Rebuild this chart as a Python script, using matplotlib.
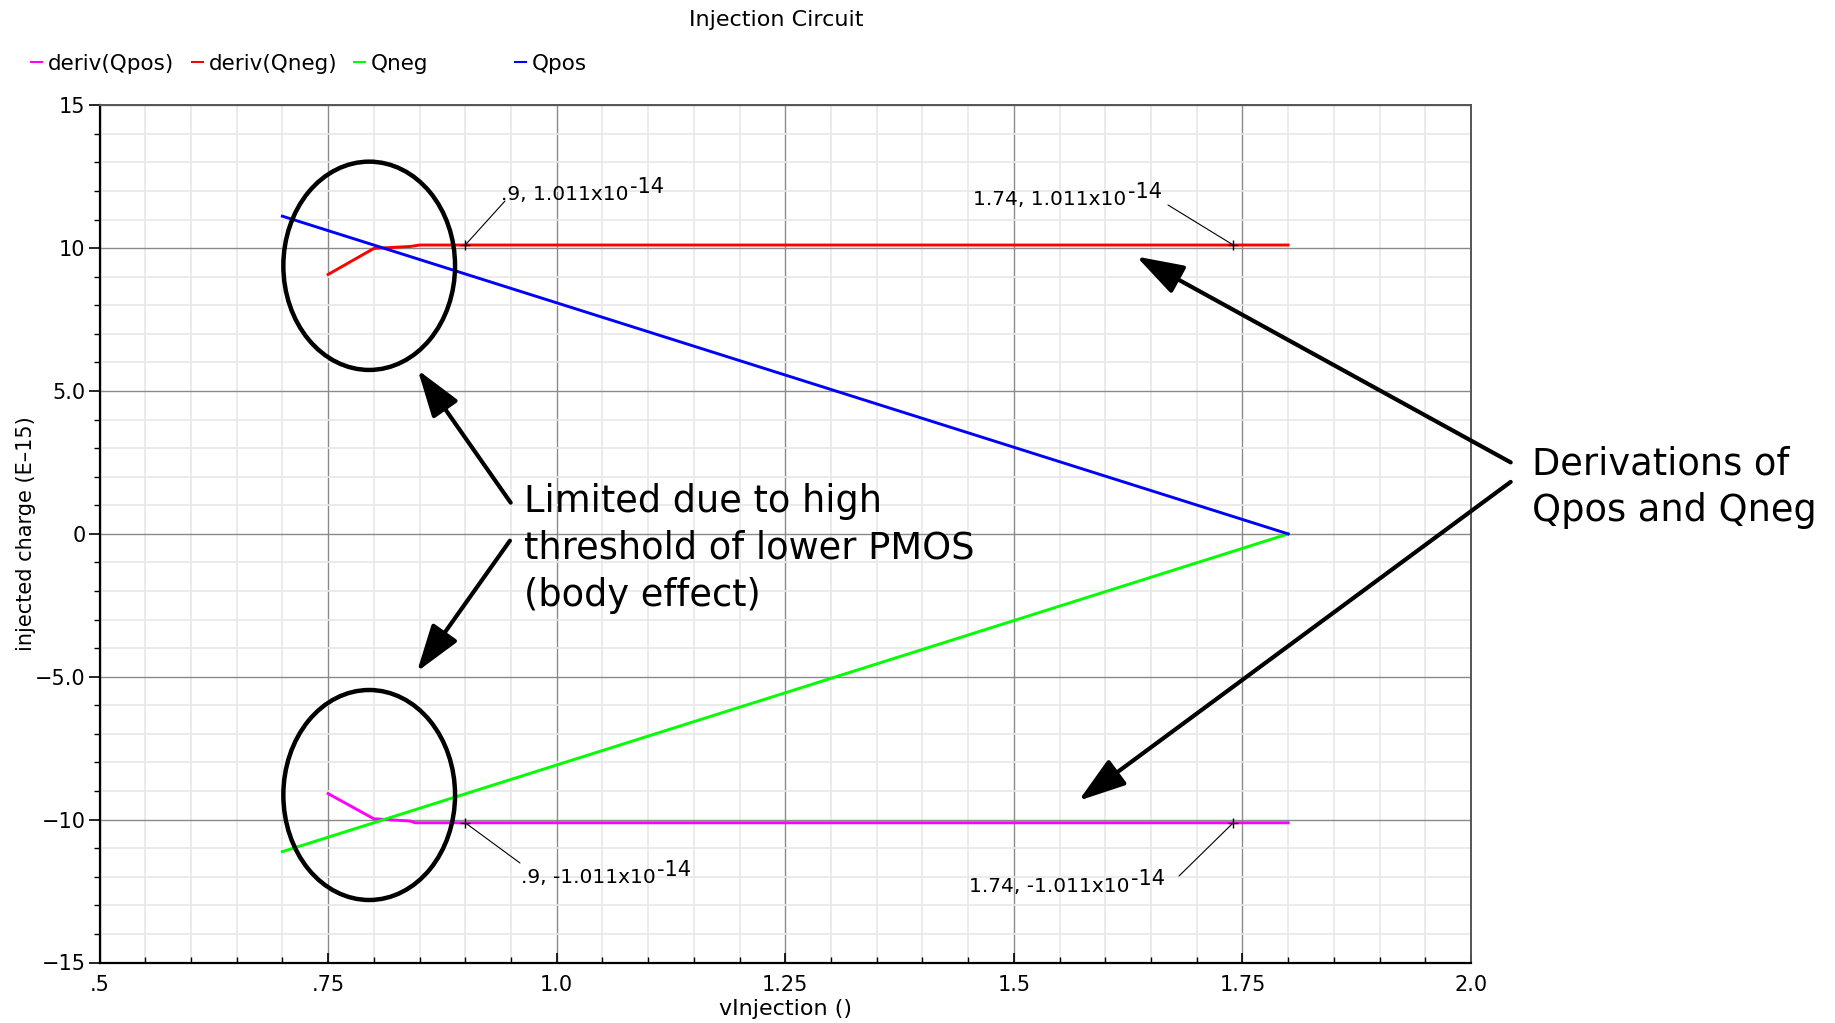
import math

import matplotlib
matplotlib.use("Agg")
import matplotlib.pyplot as plt
from matplotlib.patches import Ellipse, FancyArrowPatch
from matplotlib.lines import Line2D
from matplotlib.ticker import MultipleLocator

W, H = 1835, 1023

# injected charge vs vInjection, in units of 1e-15 C
v_charge = [0.70, 1.80]
q_pos = [11.12, 0.0]
q_neg = [-11.12, 0.0]

# numerical derivatives of the two charges
v_deriv_neg = [0.75, 0.80, 0.84, 0.85, 1.80]
deriv_neg = [9.08, 9.99, 10.06, 10.11, 10.11]
v_deriv_pos = [0.75, 0.80, 0.84, 0.845, 1.80]
deriv_pos = [-9.09, -9.97, -10.05, -10.11, -10.11]

# cursor readouts placed on the derivative traces
cursor_x = [0.9, 1.74]
cursor_q = 10.11

x_ticks = [0.5, 0.75, 1.0, 1.25, 1.5, 1.75, 2.0]
x_ticklabels = [".5", ".75", "1.0", "1.25", "1.5", "1.75", "2.0"]
y_ticks = [15, 10, 5, 0, -5, -10, -15]
y_ticklabels = ["15", "10", "5.0", "0", "\u22125.0", "\u221210", "\u221215"]

series = [
    ("deriv(Qpos)", "#ff00ff"),
    ("deriv(Qneg)", "#ff0000"),
    ("Qneg", "#00ff00"),
    ("Qpos", "#0000ff"),
]
colors = dict(series)

plt.rcParams["font.family"] = ["DejaVu Sans"]


def fig_px(x, y):
    # pixel position (origin top-left) -> figure fraction
    return (x / W, 1 - y / H)


fig = plt.figure(figsize=(W / 100, H / 100), dpi=100)
ax = fig.add_axes([99.5 / W, 1 - 962.5 / H, (1471 - 99.5) / W, (962.5 - 105.3) / H])

ax.plot(v_deriv_pos, deriv_pos, color=colors["deriv(Qpos)"], lw=2.1, zorder=3)
ax.plot(v_deriv_neg, deriv_neg, color=colors["deriv(Qneg)"], lw=2.1, zorder=3)
ax.plot(v_charge, q_neg, color=colors["Qneg"], lw=2.1, zorder=3)
ax.plot(v_charge, q_pos, color=colors["Qpos"], lw=2.1, zorder=3)

ax.set_xlim(0.5, 2.0)
ax.set_ylim(-15, 15)
ax.set_xticks(x_ticks)
ax.set_xticklabels(x_ticklabels)
ax.set_yticks(y_ticks)
ax.set_yticklabels(y_ticklabels)
ax.xaxis.set_minor_locator(MultipleLocator(0.05))
ax.yaxis.set_minor_locator(MultipleLocator(1.0))

ax.set_axisbelow(True)
ax.grid(which="minor", color="#e8e8e8", lw=1.2)
ax.grid(which="major", color="#8a8a8a", lw=1.0)

ax.tick_params(axis="y", which="major", labelsize=15, length=8, width=1.2, direction="out", pad=2)
ax.tick_params(axis="y", which="minor", length=4, width=1.0, direction="out")
ax.tick_params(axis="x", which="major", labelsize=15, length=7, width=1.2, direction="in", pad=9)
ax.tick_params(axis="x", which="minor", length=4, width=1.0, direction="in")

for side in ("left", "bottom"):
    ax.spines[side].set_linewidth(1.6)
    ax.spines[side].set_color("black")
for side in ("top", "right"):
    ax.spines[side].set_linewidth(1.4)
    ax.spines[side].set_color("#555555")

ax.set_xlabel("vInjection ()", fontsize=16, va="center")
ax.xaxis.set_label_coords(0.5, -(1009 - 962.5) / (962.5 - 105.3))
ax.set_ylabel("injected charge (E\u201315)", fontsize=15, va="center")
ax.yaxis.set_label_coords((26 - 99.5) / (1471 - 99.5), 0.5)

# title and legend row
fig.text(*fig_px(776, 26.5), "Injection Circuit", fontsize=16, ha="center", va="baseline")
for i, (name, col) in enumerate(series):
    x0 = 30.5 + i * 161.5
    x1, y1 = fig_px(x0, 62)
    x2, _ = fig_px(x0 + 11, 62)
    fig.add_artist(Line2D([x1, x2], [y1, y1], color=col, lw=1.5, transform=fig.transFigure))
    fig.text(*fig_px(x0 + 17, 70), name, fontsize=15.5, ha="left", va="baseline")

# cursor markers and their readouts
for sign in (1, -1):
    ax.plot(cursor_x, [sign * cursor_q] * len(cursor_x), ls="none", marker="+",
            ms=7, mew=1.0, color="black", zorder=4)


def fmt_v(v):
    s = f"{v:g}"
    return s[1:] if s.startswith("0.") else s


def readout(v, q, text_px, lead_px):
    value = q * 1e-15
    exp = math.floor(math.log10(abs(value)))
    mant = value / 10 ** exp
    base = f"{fmt_v(v)}, {mant:.3f}x10"
    t = fig.text(*fig_px(*text_px), base, fontsize=14.5, ha="left", va="baseline")
    ax.annotate(f"{exp}", xy=(1, 0), xycoords=t, xytext=(1, 5),
                textcoords="offset points", fontsize=15, ha="left", va="bottom")
    ax.annotate("", xy=(v, q), xycoords="data",
                xytext=fig_px(*lead_px), textcoords="figure fraction",
                arrowprops=dict(arrowstyle="-", lw=0.8, color="black",
                                shrinkA=0, shrinkB=0))


readout(cursor_x[0], cursor_q, (501, 200), (505, 201))
readout(cursor_x[1], cursor_q, (973, 205), (1168, 205))
readout(cursor_x[0], -cursor_q, (521, 883), (520, 863))
readout(cursor_x[1], -cursor_q, (969, 892), (1179, 876))

# highlight circles around the knee of the derivatives
for cy, h in ((265.8, 208.3), (795.0, 210.0)):
    fig.add_artist(Ellipse(fig_px(369.2, cy), 171.7 / W, h / H, transform=fig.transFigure,
                           fill=False, lw=3.2, ec="black"))

# callout arrows
arrows = [
    ((510.7, 502.7), (417.8, 370.0)),
    ((509.9, 540.7), (417.0, 671.7)),
    ((1510.7, 462.4), (1136.4, 256.5)),
    ((1510.7, 481.9), (1078.7, 800.7)),
]
for tail, tip in arrows:
    fig.add_artist(FancyArrowPatch(fig_px(*tail), fig_px(*tip), transform=fig.transFigure,
                                   arrowstyle="-|>,head_length=2.9,head_width=0.95",
                                   mutation_scale=10, lw=3, color="black",
                                   shrinkA=0, shrinkB=0))

# multi-line text: va="baseline" pins the baseline of the last line
fig.text(*fig_px(523.7, 605.5), "Limited due to high\nthreshold of lower PMOS\n(body effect)",
         fontsize=26.5, ha="left", va="baseline", linespacing=1.33)
fig.text(*fig_px(1532, 521), "Derivations of\nQpos and Qneg",
         fontsize=26.5, ha="left", va="baseline", linespacing=1.33)

fig.savefig("out.png", dpi=100)
